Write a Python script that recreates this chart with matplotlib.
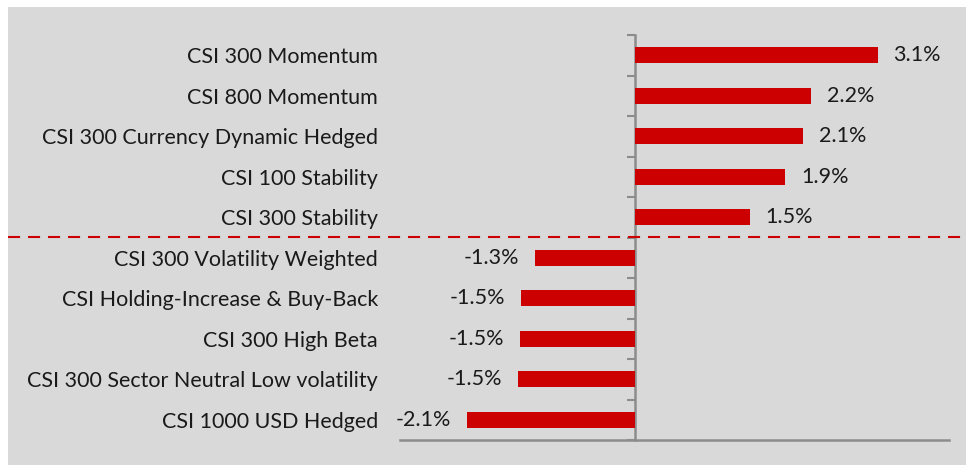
import matplotlib.pyplot as plt
import matplotlib.transforms as mtransforms
from matplotlib.patches import Rectangle

# data (percent)
indices = [
    "CSI 300 Momentum",
    "CSI 800 Momentum",
    "CSI 300 Currency Dynamic Hedged",
    "CSI 100 Stability",
    "CSI 300 Stability",
    "CSI 300 Volatility Weighted",
    "CSI Holding-Increase & Buy-Back",
    "CSI 300 High Beta",
    "CSI 300 Sector Neutral Low volatility",
    "CSI 1000 USD Hedged",
]
returns = [3.09, 2.24, 2.14, 1.91, 1.46, -1.28, -1.46, -1.47, -1.49, -2.14]
x_range = (-3.0, 4.0)
n_top = 5  # gainers above the dashed line

red = "#cc0000"
axis_grey = "#8c8c8c"
bg = "#d9d9d9"

plt.rcParams["font.family"] = ["Lato", "DejaVu Sans"]

fig = plt.figure(figsize=(9.66, 4.65), dpi=100, facecolor="white")
W, H = 966, 465
gray_left = 8 / W
fig.add_artist(Rectangle((gray_left, 0), 1 - gray_left, 1 - 7 / H,
                         transform=fig.transFigure, facecolor=bg,
                         edgecolor="none", zorder=-10))

ax = fig.add_axes([400 / W, 1 - 440 / H, 549 / W, 405 / H])
ax.set_facecolor("none")

ypos = list(range(len(indices)))
bars = ax.barh(ypos, returns, height=0.4, color=red, zorder=3)
ax.set_xlim(*x_range)
ax.set_ylim(len(indices) - 0.5, -0.5)

ax.bar_label(bars, labels=[f"{v:.1f}%" for v in returns], padding=11.5,
             fontsize=15.5, color="#1a1a1a")

ax.set_yticks(ypos)
ax.set_yticklabels(indices, fontsize=15.5, color="#1a1a1a")
ax.tick_params(axis="y", length=0, pad=15.8)
ax.set_xticks([])

for s in ["top", "right", "left"]:
    ax.spines[s].set_visible(False)
ax.spines["bottom"].set_color(axis_grey)
ax.spines["bottom"].set_linewidth(1.8)

# category axis sits at zero, ticks at category boundaries
zero_frac = (0 - x_range[0]) / (x_range[1] - x_range[0])
sec = ax.secondary_yaxis(zero_frac)
sec.set_yticks([i - 0.5 for i in range(len(indices) + 1)])
sec.set_yticklabels([])
sec.tick_params(axis="y", direction="out", length=6, width=1.5, color=axis_grey)
sec.spines["left"].set_color(axis_grey)
sec.spines["left"].set_linewidth(1.8)

# dashed separator between gainers and losers, across the whole panel
blend = mtransforms.blended_transform_factory(fig.transFigure, ax.transData)
ax.plot([gray_left, 1], [n_top - 0.5, n_top - 0.5], transform=blend,
        color=red, lw=1.5, ls=(0, (5.8, 3.8)), clip_on=False, zorder=4)

fig.savefig("out.png", dpi=100, facecolor="white")
